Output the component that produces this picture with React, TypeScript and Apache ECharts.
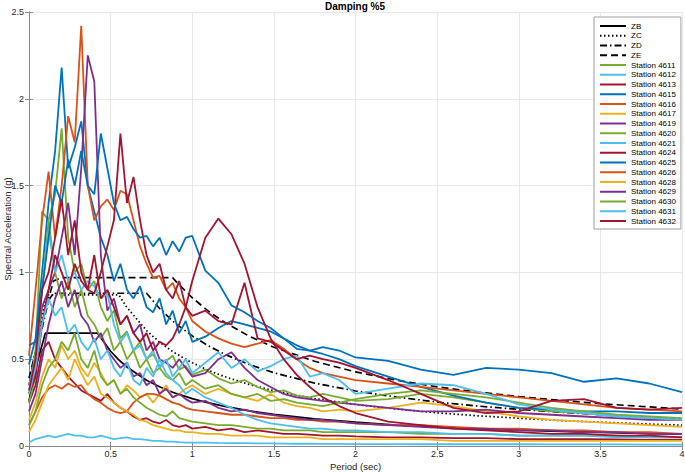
import React, { useEffect, useRef } from 'react';
import * as echarts from 'echarts';

// Station spectra sampled on a shared period grid (sec)
const periods = [0, 0.04, 0.08, 0.12, 0.16, 0.2, 0.24, 0.28, 0.32, 0.36,
  0.4, 0.44, 0.48, 0.52, 0.56, 0.6, 0.64, 0.68, 0.72, 0.76,
  0.8, 0.84, 0.88, 0.92, 0.96, 1.0, 1.08, 1.16, 1.24, 1.32,
  1.4, 1.48, 1.56, 1.64, 1.72, 1.8, 1.9, 2.0, 2.2, 2.4,
  2.6, 2.8, 3.0, 3.2, 3.4, 3.6, 3.8, 4.0];

const st4611 = [0.30, 0.55, 1.35, 1.30, 1.45, 1.83, 1.20, 1.00, 1.05, 0.90,
  0.95, 0.80, 0.72, 0.78, 0.62, 0.66, 0.55, 0.60, 0.50, 0.53,
  0.46, 0.49, 0.52, 0.44, 0.46, 0.41, 0.44, 0.39, 0.36, 0.38,
  0.34, 0.31, 0.32, 0.29, 0.28, 0.30, 0.28, 0.26, 0.27, 0.30,
  0.28, 0.25, 0.22, 0.20, 0.19, 0.17, 0.16, 0.15];
const st4612 = [0.02, 0.04, 0.05, 0.06, 0.05, 0.06, 0.07, 0.06, 0.06, 0.05,
  0.05, 0.06, 0.05, 0.04, 0.045, 0.05, 0.04, 0.04, 0.035, 0.03,
  0.03, 0.025, 0.025, 0.022, 0.02, 0.02, 0.02, 0.018, 0.017, 0.016,
  0.015, 0.015, 0.014, 0.013, 0.013, 0.012, 0.012, 0.011, 0.011, 0.010,
  0.010, 0.010, 0.010, 0.009, 0.009, 0.009, 0.008, 0.008];
const st4613 = [0.25, 0.35, 0.55, 0.60, 0.50, 0.45, 0.40, 0.36, 0.32, 0.30,
  0.28, 0.26, 0.30, 0.25, 0.22, 0.20, 0.17, 0.15, 0.16, 0.14,
  0.13, 0.15, 0.12, 0.11, 0.12, 0.10, 0.11, 0.09, 0.10, 0.08,
  0.09, 0.08, 0.07, 0.07, 0.065, 0.06, 0.06, 0.055, 0.05, 0.05,
  0.045, 0.045, 0.04, 0.04, 0.04, 0.038, 0.035, 0.035];
const st4615 = [0.47, 0.62, 1.00, 1.40, 1.70, 2.18, 1.60, 1.72, 1.87, 1.50,
  1.35, 1.20, 1.10, 0.95, 1.05, 0.90, 0.85, 0.92, 0.80, 0.77,
  0.85, 0.70, 0.78, 0.65, 0.72, 0.60, 0.63, 0.68, 0.72, 0.70,
  0.68, 0.66, 0.62, 0.58, 0.55, 0.53, 0.50, 0.46, 0.40, 0.34,
  0.29, 0.25, 0.22, 0.21, 0.20, 0.20, 0.19, 0.19];
const st4616 = [0.52, 0.90, 1.30, 1.58, 1.20, 1.50, 1.90, 1.75, 2.42, 1.50,
  1.30, 1.38, 1.42, 1.36, 1.47, 1.45, 1.30, 1.15, 1.05, 0.97,
  0.98, 0.90, 0.94, 0.85, 0.80, 0.72, 0.66, 0.62, 0.59, 0.57,
  0.59, 0.61, 0.56, 0.50, 0.45, 0.42, 0.40, 0.38, 0.36, 0.34,
  0.32, 0.30, 0.28, 0.26, 0.24, 0.22, 0.21, 0.20];
const st4617 = [0.15, 0.25, 0.40, 0.50, 0.45, 0.58, 0.50, 0.55, 0.45, 0.40,
  0.48, 0.42, 0.35, 0.38, 0.30, 0.35, 0.32, 0.28, 0.30, 0.25,
  0.30, 0.35, 0.28, 0.30, 0.33, 0.35, 0.30, 0.33, 0.30, 0.28,
  0.26, 0.30, 0.25, 0.23, 0.22, 0.20, 0.21, 0.20, 0.22, 0.25,
  0.23, 0.20, 0.17, 0.15, 0.14, 0.13, 0.12, 0.11];
const st4619 = [0.35, 0.50, 0.80, 0.90, 1.00, 1.20, 1.40, 1.10, 1.60, 2.25,
  2.10, 1.10, 0.78, 0.85, 0.70, 0.75, 0.65, 0.70, 0.55, 0.60,
  0.50, 0.48, 0.45, 0.50, 0.45, 0.40, 0.42, 0.50, 0.54, 0.45,
  0.38, 0.34, 0.30, 0.28, 0.27, 0.26, 0.25, 0.24, 0.22, 0.20,
  0.20, 0.21, 0.19, 0.18, 0.17, 0.16, 0.15, 0.15];
const st4620 = [0.25, 0.40, 0.90, 1.30, 1.00, 0.85, 0.95, 0.80, 0.90, 0.75,
  0.70, 0.62, 0.68, 0.55, 0.60, 0.50, 0.55, 0.45, 0.50, 0.42,
  0.45, 0.40, 0.38, 0.42, 0.35, 0.38, 0.33, 0.35, 0.30, 0.28,
  0.30, 0.26, 0.27, 0.25, 0.24, 0.23, 0.25, 0.27, 0.30, 0.32,
  0.30, 0.28, 0.25, 0.22, 0.20, 0.18, 0.17, 0.16];
const st4621 = [0.35, 0.50, 0.90, 1.24, 1.00, 1.10, 0.95, 1.00, 0.90, 0.95,
  0.92, 0.85, 0.88, 0.70, 0.60, 0.65, 0.55, 0.58, 0.50, 0.55,
  0.45, 0.50, 0.40, 0.45, 0.50, 0.42, 0.48, 0.54, 0.45, 0.50,
  0.43, 0.46, 0.50, 0.52, 0.40, 0.42, 0.38, 0.30, 0.33, 0.36,
  0.35, 0.30, 0.24, 0.21, 0.19, 0.17, 0.16, 0.15];
const st4624 = [0.30, 0.40, 0.70, 0.90, 1.10, 1.00, 0.90, 1.05, 0.95, 0.90,
  0.88, 1.00, 1.15, 1.30, 1.80, 1.40, 1.55, 1.30, 1.10, 1.00,
  1.05, 0.90, 0.85, 0.95, 0.80, 0.75, 0.78, 0.72, 0.70, 0.94,
  0.62, 0.60, 0.55, 0.50, 0.52, 0.50, 0.48, 0.45, 0.38, 0.30,
  0.22, 0.19, 0.20, 0.26, 0.27, 0.22, 0.21, 0.22];
const st4625 = [0.58, 0.60, 0.90, 1.20, 1.50, 1.40, 1.65, 1.50, 1.70, 1.50,
  1.45, 1.80, 1.60, 1.40, 1.30, 1.32, 1.25, 1.20, 1.21, 1.15,
  1.20, 1.10, 1.18, 1.12, 1.20, 1.21, 1.01, 0.94, 0.81, 0.77,
  0.72, 0.68, 0.62, 0.56, 0.55, 0.57, 0.55, 0.51, 0.49, 0.44,
  0.41, 0.45, 0.44, 0.42, 0.37, 0.39, 0.36, 0.31];
const st4626 = [0.12, 0.20, 0.28, 0.33, 0.35, 0.33, 0.36, 0.34, 0.35, 0.30,
  0.27, 0.25, 0.22, 0.20, 0.19, 0.20, 0.25, 0.28, 0.30, 0.30,
  0.29, 0.27, 0.25, 0.24, 0.22, 0.21, 0.20, 0.19, 0.18, 0.18,
  0.17, 0.16, 0.16, 0.15, 0.15, 0.14, 0.14, 0.13, 0.12, 0.12,
  0.11, 0.10, 0.10, 0.09, 0.09, 0.08, 0.08, 0.07];
const st4628 = [0.08, 0.15, 0.25, 0.35, 0.40, 0.45, 0.38, 0.50, 0.42, 0.35,
  0.40, 0.30, 0.28, 0.25, 0.22, 0.20, 0.18, 0.15, 0.14, 0.12,
  0.11, 0.10, 0.09, 0.09, 0.08, 0.08, 0.07, 0.07, 0.06, 0.06,
  0.06, 0.05, 0.05, 0.05, 0.05, 0.04, 0.04, 0.04, 0.04, 0.04,
  0.03, 0.03, 0.03, 0.03, 0.03, 0.03, 0.03, 0.03];
const st4629 = [0.20, 0.30, 0.50, 0.70, 0.85, 0.95, 0.80, 0.90, 0.75, 0.70,
  0.60, 0.65, 0.55, 0.50, 0.45, 0.48, 0.40, 0.42, 0.35, 0.38,
  0.30, 0.33, 0.28, 0.30, 0.27, 0.25, 0.26, 0.22, 0.20, 0.21,
  0.19, 0.18, 0.17, 0.16, 0.15, 0.15, 0.14, 0.13, 0.12, 0.11,
  0.10, 0.10, 0.09, 0.09, 0.08, 0.08, 0.07, 0.07];
const st4630 = [0.12, 0.20, 0.35, 0.45, 0.50, 0.60, 0.55, 0.65, 0.50, 0.45,
  0.55, 0.40, 0.35, 0.38, 0.30, 0.33, 0.28, 0.25, 0.22, 0.20,
  0.18, 0.17, 0.20, 0.16, 0.15, 0.14, 0.13, 0.12, 0.12, 0.11,
  0.10, 0.10, 0.09, 0.09, 0.09, 0.08, 0.08, 0.08, 0.08, 0.07,
  0.07, 0.07, 0.06, 0.06, 0.06, 0.06, 0.05, 0.05];
const st4631 = [0.30, 0.45, 0.70, 0.85, 0.75, 0.80, 0.65, 0.70, 0.60, 0.55,
  0.62, 0.50, 0.55, 0.45, 0.40, 0.48, 0.38, 0.35, 0.45, 0.40,
  0.50, 0.42, 0.38, 0.35, 0.30, 0.33, 0.28, 0.25, 0.22, 0.18,
  0.15, 0.13, 0.12, 0.11, 0.10, 0.10, 0.09, 0.09, 0.08, 0.08,
  0.07, 0.07, 0.06, 0.06, 0.06, 0.05, 0.05, 0.05];
const st4632 = [0.32, 0.50, 0.90, 1.00, 1.20, 1.42, 1.10, 1.30, 1.00, 0.90,
  1.10, 0.85, 0.90, 0.80, 0.70, 0.75, 0.65, 0.60, 0.65, 0.55,
  0.60, 0.58, 0.62, 0.70, 0.80, 0.95, 1.20, 1.31, 1.22, 1.05,
  0.80, 0.62, 0.50, 0.41, 0.34, 0.28, 0.23, 0.19, 0.14, 0.12,
  0.10, 0.09, 0.08, 0.07, 0.07, 0.06, 0.06, 0.05];

// Design spectra (soil classes) on their own period grid
const codePeriods = [0, 0.05, 0.1, 0.12, 0.15, 0.2, 0.3, 0.42, 0.5, 0.55,
  0.6, 0.72, 0.8, 0.88, 0.9, 1.0, 1.1, 1.2, 1.35, 1.5,
  1.75, 2.0, 2.25, 2.5, 2.75, 3.0, 3.25, 3.5, 3.75, 4.0];
const zbValues = [0.26, 0.48, 0.65, 0.65, 0.65, 0.65, 0.65, 0.65, 0.546, 0.496,
  0.455, 0.379, 0.341, 0.31, 0.303, 0.273, 0.248, 0.228, 0.202, 0.182,
  0.156, 0.137, 0.121, 0.109, 0.099, 0.091, 0.084, 0.078, 0.073, 0.068];
const zcValues = [0.35, 0.6, 0.84, 0.87, 0.87, 0.87, 0.87, 0.87, 0.87, 0.87,
  0.798, 0.665, 0.598, 0.544, 0.532, 0.479, 0.435, 0.399, 0.354, 0.319,
  0.273, 0.239, 0.213, 0.191, 0.174, 0.16, 0.147, 0.137, 0.128, 0.12];
const zdValues = [0.35, 0.55, 0.76, 0.84, 0.88, 0.88, 0.88, 0.88, 0.88, 0.88,
  0.88, 0.88, 0.792, 0.72, 0.704, 0.634, 0.576, 0.528, 0.469, 0.422,
  0.362, 0.317, 0.282, 0.253, 0.23, 0.211, 0.195, 0.181, 0.169, 0.158];
const zeValues = [0.39, 0.58, 0.78, 0.85, 0.95, 0.97, 0.97, 0.97, 0.97, 0.97,
  0.97, 0.97, 0.97, 0.97, 0.948, 0.854, 0.776, 0.711, 0.632, 0.569,
  0.488, 0.427, 0.379, 0.341, 0.31, 0.285, 0.263, 0.244, 0.228, 0.213];

const codeNames = ['ZB', 'ZC', 'ZD', 'ZE'];
const stationNames = ['Station 4611', 'Station 4612', 'Station 4613', 'Station 4615', 'Station 4616',
  'Station 4617', 'Station 4619', 'Station 4620', 'Station 4621', 'Station 4624', 'Station 4625',
  'Station 4626', 'Station 4628', 'Station 4629', 'Station 4630', 'Station 4631', 'Station 4632'];
const stationValues = [st4611, st4612, st4613, st4615, st4616, st4617, st4619, st4620, st4621,
  st4624, st4625, st4626, st4628, st4629, st4630, st4631, st4632];
const xTicks = { min: 0, max: 4, interval: 0.5 };
const yTicks = { min: 0, max: 2.5, interval: 0.5 };

const palette = ['#77AC30', '#4DBEEE', '#A2142F', '#0072BD', '#D95319', '#EDB120', '#7E2F8E'];
const FONT = '"Liberation Sans", Arial, Helvetica, sans-serif';

export default function App() {
  const ref = useRef<HTMLDivElement>(null);
  useEffect(() => {
    const chart = echarts.init(ref.current!, null, { renderer: 'svg' });
    const codeVals = [zbValues, zcValues, zdValues, zeValues];
    const codeDash: any[] = ['solid', [1.5, 2.5], [7, 3, 1.5, 3], [7, 4]];
    const series: any[] = [];
    codeNames.forEach((n, k) => {
      series.push({
        name: n, type: 'line', symbol: 'none', silent: true, z: 2,
        data: codePeriods.map((p, i) => [p, codeVals[k][i]]),
        lineStyle: { color: '#000', width: 1.7, type: codeDash[k] },
        itemStyle: { color: '#000' },
      });
    });
    stationNames.forEach((n, k) => {
      const c = palette[k % palette.length];
      series.push({
        name: n, type: 'line', symbol: 'none', silent: true, z: 3,
        data: periods.map((p, i) => [p, stationValues[k][i]]),
        lineStyle: { color: c, width: 1.8 },
        itemStyle: { color: c },
      });
    });
    const axisCol = '#8a8a8a';
    chart.setOption({
      animation: false,
      backgroundColor: '#fff',
      textStyle: { fontFamily: FONT },
      graphic: [{
        type: 'text', x: 355, y: 1,
        style: { text: 'Damping %5', font: `bold 10px ${FONT}`, fill: '#000', textAlign: 'center', textVerticalAlign: 'top' },
      }],
      grid: { left: 29, right: 3, top: 12, bottom: 27, containLabel: false, outerBoundsMode: 'none' },
      legend: {
        orient: 'vertical', left: 594, top: 17,
        data: [...codeNames, ...stationNames],
        itemWidth: 26, itemHeight: 8, itemGap: 1.75,
        padding: [5, 5, 4, 5],
        borderColor: '#a0a0a0', borderWidth: 1, backgroundColor: '#fff',
        textStyle: { fontSize: 8, color: '#000', fontFamily: FONT },
        itemStyle: { opacity: 0 },
        selectedMode: false,
      },
      xAxis: [{
        type: 'value', ...xTicks,
        name: 'Period (sec)', nameLocation: 'middle', nameGap: 15, nameMoveOverlap: false,
        nameTextStyle: { fontSize: 9.5, color: '#262626', fontFamily: FONT },
        axisLine: { show: true, lineStyle: { color: axisCol, width: 1 } },
        axisTick: { show: true, inside: true, length: 4, lineStyle: { color: axisCol } },
        axisLabel: { fontSize: 9, color: '#262626', margin: 3, fontFamily: FONT },
        splitLine: { show: true, lineStyle: { color: '#e8e8e8', width: 1 } },
      }, {
        type: 'value', ...xTicks, position: 'top',
        axisLine: { show: true, lineStyle: { color: axisCol, width: 1 } },
        axisTick: { show: true, inside: true, length: 4, lineStyle: { color: axisCol } },
        axisLabel: { show: false }, splitLine: { show: false },
      }],
      yAxis: [{
        type: 'value', ...yTicks,
        name: 'Spectral Acceleration (g)', nameLocation: 'middle', nameGap: 17, nameMoveOverlap: false,
        nameTextStyle: { fontSize: 9.5, color: '#262626', fontFamily: FONT },
        axisLine: { show: true, lineStyle: { color: axisCol, width: 1 } },
        axisTick: { show: true, inside: true, length: 4, lineStyle: { color: axisCol } },
        axisLabel: { fontSize: 9, color: '#262626', margin: 5, fontFamily: FONT },
        splitLine: { show: true, lineStyle: { color: '#e8e8e8', width: 1 } },
      }, {
        type: 'value', ...yTicks, position: 'right',
        axisLine: { show: true, lineStyle: { color: axisCol, width: 1 } },
        axisTick: { show: true, inside: true, length: 4, lineStyle: { color: axisCol } },
        axisLabel: { show: false }, splitLine: { show: false },
      }],
      series,
    });
    return () => chart.dispose();
  }, []);
  return <div ref={ref} style={{ position: 'fixed', left: 0, top: 0, width: 685, height: 473, background: '#fff' }} />;
}
